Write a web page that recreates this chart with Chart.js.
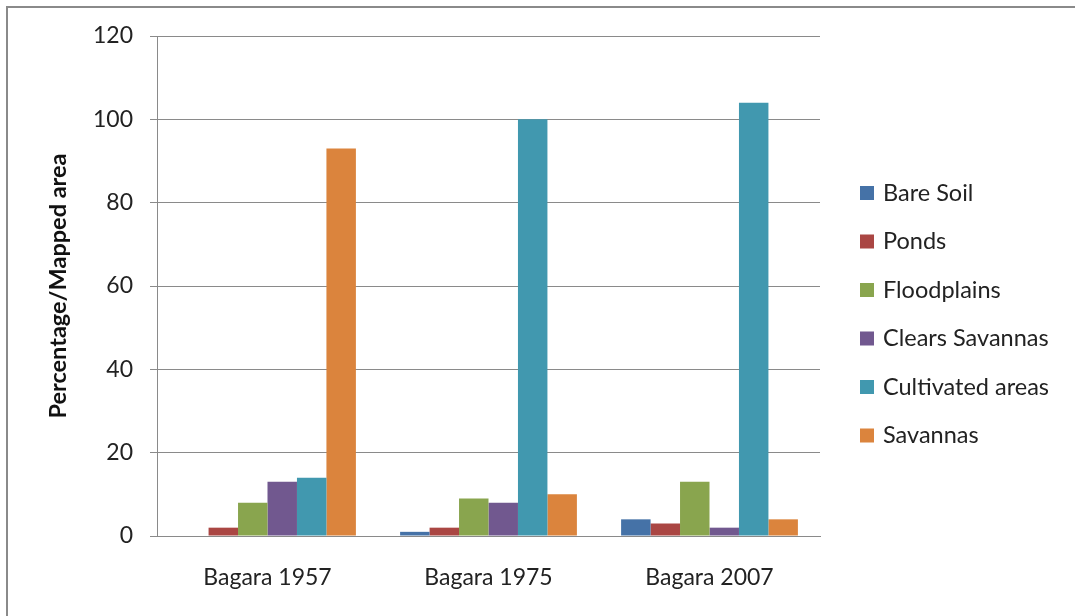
<!DOCTYPE html>
<html>
<head>
    <script src="https://cdn.jsdelivr.net/npm/chart.js@4.4.0/dist/chart.umd.min.js"></script>
    <style>
        body { margin: 0; background: #fff; }
        #wrap { position: relative; width: 1075px; height: 616px; }
        #frame { position: absolute; left: 6px; top: 6px; right: -4px; bottom: -4px;
                 border-top: 2px solid #8a8a8a; border-left: 2px solid #8a8a8a; }
    </style>
</head>
<body>
<div id="wrap">
    <canvas id="myChart" width="1075" height="616"></canvas>
    <div id="frame"></div>
</div>

<script>
    const categories = ["Bagara 1957", "Bagara 1975", "Bagara 2007"];
    const seriesNames = ["Bare Soil", "Ponds", "Floodplains", "Clears Savannas", "Cultivated areas", "Savannas"];
    const bareSoil = [0, 1, 4];
    const ponds = [2, 2, 3];
    const floodplains = [8, 9, 13];
    const clearsSavannas = [13, 8, 2];
    const cultivated = [14, 100, 104];
    const savannas = [93, 10, 4];
    const yTicks = [0, 20, 40, 60, 80, 100, 120];
    const barColors = ["#4572A7", "#AA4643", "#89A54E", "#71588F", "#4198AF", "#DB843D"];

    const allValues = [bareSoil, ponds, floodplains, clearsSavannas, cultivated, savannas];
    const font = "Lato";

    // legend drawn by hand so it sits where the original one does
    const sideLegend = {
        id: "sideLegend",
        afterDraw(chart) {
            const ctx = chart.ctx;
            ctx.save();
            ctx.font = "23.5px " + font;
            ctx.textBaseline = "middle";
            chart.data.datasets.forEach((ds, i) => {
                const y = 193 + i * 48.5;
                ctx.fillStyle = ds.backgroundColor;
                ctx.fillRect(860, y - 7, 14, 14);
                ctx.fillStyle = "#222";
                ctx.fillText(ds.label, 883, y);
            });
            ctx.restore();
        }
    };

    new Chart("myChart", {
        type: "bar",
        data: {
            labels: categories,
            datasets: seriesNames.map((name, i) => ({
                label: name,
                data: allValues[i],
                backgroundColor: barColors[i],
                categoryPercentage: 0.8,
                barPercentage: 1.0
            }))
        },
        options: {
            responsive: false,
            animation: false,
            layout: { padding: { left: 36, right: 255, top: 36, bottom: 0 } },
            plugins: {
                legend: { display: false },
                tooltip: { enabled: false }
            },
            scales: {
                x: {
                    grid: { display: false, drawTicks: false },
                    border: { color: "#8a8a8a", width: 1 },
                    ticks: { color: "#222", font: { family: font, size: 23 }, padding: 28 },
                    afterFit(scale) { scale.height = 80; }
                },
                y: {
                    min: 0,
                    max: 120,
                    afterBuildTicks(scale) { scale.ticks = yTicks.map(v => ({ value: v })); },
                    grid: { color: "#8a8a8a", tickLength: 7 },
                    border: { color: "#8a8a8a", width: 1 },
                    ticks: { color: "#222", font: { family: font, size: 23 }, padding: 17 },
                    title: {
                        display: true,
                        text: "Percentage/Mapped area",
                        color: "#111",
                        font: { family: font, size: 23.5, weight: "bold" },
                        padding: { top: 8, bottom: 0 }
                    },
                    afterFit(scale) { scale.width = 157 - 36; }
                }
            }
        },
        plugins: [sideLegend]
    });
</script>
</body>
</html>
